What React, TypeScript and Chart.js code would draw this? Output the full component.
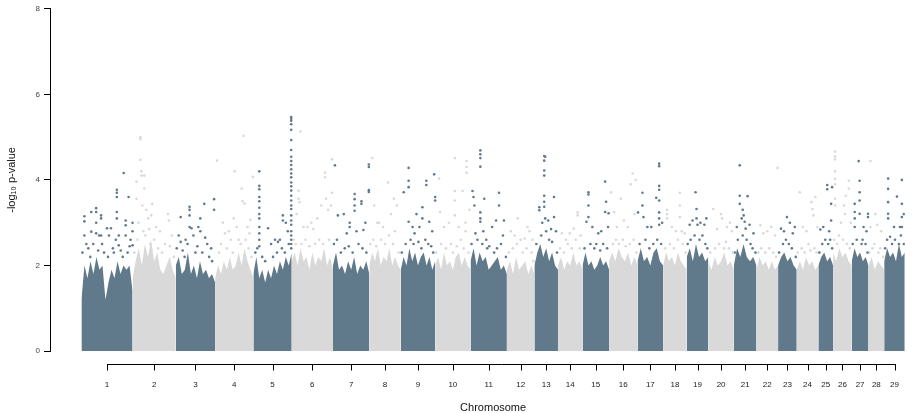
import { useEffect, useRef } from "react";
import { Chart, registerables } from "chart.js";

Chart.register(...registerables);

// Chromosome labels and their widths on the x axis (SNP index units)
const chromosomes = ["1","2","3","4","5","6","7","8","9","10","11","12","13","14","15","16","17","18","19","20","21","22","23","24","25","26","27","28","29"];
const chromLengths = [52,44,40,39,39,42,37,32,35,36,37,28,24,25,27,29,26,24,22,26,23,22,19,22,15,19,17,16,21];
const yTicks = [0, 2, 4, 6, 8];

// Upper edge of the dense cloud of SNPs, sampled evenly along each chromosome (-log10 p)
const envelopes = [
  [1.2,2.0,1.7,2.1,1.8,2.2,1.9,2.0,1.2,1.6,1.9,1.7,2.1,1.8,2.0,1.9,2.0,1.4],
  [1.7,2.1,2.4,2.0,2.5,2.2,2.6,2.1,2.3,1.9,1.8,2.0,2.2,1.9,1.7],
  [2.0,2.2,1.8,1.9,2.3,1.8,2.0,1.7,2.1,1.8,1.9,1.7,1.8,1.6],
  [1.7,2.0,1.8,2.1,1.9,2.2,1.9,2.0,2.3,2.0,2.4,2.1,1.9,1.7],
  [1.8,2.2,1.7,1.9,1.6,1.9,1.7,2.0,1.8,2.1,1.9,2.2,2.0,2.3],
  [2.1,2.3,2.0,2.4,2.1,2.2,1.9,2.3,2.0,2.2,2.1,2.4,2.0,2.2,1.9],
  [2.0,2.3,1.9,2.0,1.8,2.1,1.9,2.2,1.8,2.0,1.9,2.1,1.8],
  [2.0,2.3,2.1,2.4,2.0,2.2,2.1,2.4,2.0,2.2,2.0,1.9],
  [1.9,2.2,2.0,2.4,2.1,2.3,2.0,2.2,2.3,2.0,2.2,1.9,2.1],
  [2.0,2.2,1.9,2.3,2.0,2.1,1.9,2.2,2.3,2.0,2.2,2.0,1.9],
  [2.1,2.4,2.0,2.3,2.1,2.2,1.9,2.0,2.1,2.2,1.9,2.0,1.8],
  [1.9,2.1,1.8,2.2,1.9,2.0,2.1,1.8,2.0,1.8],
  [2.0,2.3,2.5,2.2,2.4,2.1,2.3,2.0,1.9],
  [2.0,2.2,1.9,2.1,2.0,2.3,2.0,2.1,1.9],
  [2.0,2.3,2.0,2.1,1.9,2.0,2.2,2.0,2.1,1.9],
  [2.1,2.3,2.1,2.4,2.2,2.1,2.3,2.0,2.2,2.0],
  [2.1,2.4,2.1,2.2,2.0,2.3,2.4,2.1,2.0],
  [2.0,2.3,2.1,2.2,2.0,2.3,2.1,2.0,1.9],
  [2.2,2.4,2.1,2.5,2.2,2.3,2.1,2.2],
  [2.1,1.9,2.2,2.0,2.1,2.3,2.0,2.1,1.9],
  [2.0,2.4,2.2,2.5,2.2,2.1,2.2,2.0],
  [1.9,2.2,2.0,2.1,1.9,2.1,1.9,2.0],
  [2.0,2.2,2.3,2.1,2.2,2.0,1.9],
  [1.9,2.1,1.9,2.2,2.0,2.1,1.9,2.0],
  [2.0,2.2,2.3,2.1,2.2,2.0],
  [2.3,2.1,2.4,2.2,2.3,2.1,2.0],
  [2.1,2.4,2.2,2.3,2.1,2.2,2.0],
  [2.0,2.2,1.9,2.1,2.0,1.9],
  [2.1,2.4,2.2,2.3,2.1,2.5,2.2,2.3],
];

// Sparse SNPs just above the dense cloud: [position within chromosome, -log10 p]
const fringe = [
  [[1,2.3],[7,2.4],[9,2.2],[12,2.5],[17,2.35],[23,2.3],[27,2.2],[33,2.3],[35,2.6],[40,2.35],[42,2.2],[47,2.3],[49,2.45]],
  [[2,2.3],[5,2.6],[11,2.8],[13,2.7],[17,2.85],[18,2.5],[22,2.6],[26,2.4],[30,2.3],[33,2.5],[38,2.45],[42,2.2]],
  [[1,2.4],[7,2.35],[9,2.2],[12,2.5],[20,2.3],[22,2.45],[27,2.3],[34,2.2],[37,2.1]],
  [[4,2.3],[6,2.5],[12,2.4],[16,2.6],[18,2.3],[24,2.6],[26,2.5],[31,2.6],[34,2.4],[37,2.2]],
  [[2,2.3],[4,2.4],[9,2.2],[12,2.1],[20,2.2],[24,2.3],[29,2.4],[32,2.3],[36,2.5]],
  [[2,2.6],[4,2.5],[10,2.5],[14,2.6],[18,2.45],[24,2.5],[28,2.6],[32,2.5],[38,2.6]],
  [[1,2.5],[4,2.6],[8,2.3],[12,2.4],[16,2.45],[20,2.3],[26,2.5],[30,2.4],[34,2.3]],
  [[1,2.5],[4,2.6],[7,2.45],[12,2.6],[16,2.5],[20,2.7],[24,2.5],[30,2.3]],
  [[1,2.3],[5,2.5],[10,2.6],[13,2.5],[18,2.55],[21,2.4],[25,2.6],[28,2.5],[31,2.45],[33,2.3]],
  [[1,2.3],[6,2.5],[11,2.4],[16,2.5],[18,2.3],[22,2.45],[26,2.6],[29,2.4],[34,2.3]],
  [[1,2.5],[7,2.6],[12,2.5],[17,2.4],[19,2.45],[24,2.3],[27,2.4],[31,2.5],[36,2.2]],
  [[2,2.3],[6,2.4],[10,2.5],[16,2.3],[20,2.4],[25,2.3],[27,2.1]],
  [[2,2.5],[7,2.7],[12,2.8],[15,2.6],[18,2.55],[23,2.3]],
  [[2,2.4],[6,2.3],[10,2.5],[14,2.4],[18,2.6],[22,2.4]],
  [[2,2.4],[8,2.5],[12,2.4],[14,2.5],[18,2.35],[21,2.5],[25,2.4]],
  [[4,2.5],[7,2.6],[10,2.5],[14,2.6],[17,2.45],[21,2.5],[25,2.6],[28,2.3]],
  [[2,2.5],[8,2.6],[12,2.4],[16,2.5],[20,2.6],[24,2.5]],
  [[2,2.4],[7,2.5],[11,2.4],[15,2.6],[20,2.5],[23,2.3]],
  [[1,2.5],[4,2.6],[8,2.7],[13,2.6],[16,2.7],[19,2.5],[21,2.4]],
  [[2,2.3],[7,2.4],[11,2.5],[16,2.4],[18,2.55],[21,2.4],[25,2.3]],
  [[1,2.3],[4,2.6],[9,2.7],[13,2.6],[17,2.5],[19,2.4],[22,2.3]],
  [[2,2.3],[5,2.4],[9,2.3],[13,2.4],[17,2.3],[20,2.2]],
  [[1,2.3],[5,2.5],[8,2.6],[11,2.5],[14,2.4],[18,2.2]],
  [[1,2.3],[5,2.4],[8,2.3],[12,2.5],[14,2.35],[18,2.4],[20,2.3]],
  [[1,2.3],[4,2.5],[7,2.6],[10,2.5],[12,2.6],[14,2.4]],
  [[1,2.6],[4,2.5],[6,2.7],[10,2.6],[14,2.5],[17,2.4]],
  [[1,2.5],[5,2.6],[10,2.5],[11,2.6],[14,2.5],[16,2.3]],
  [[1,2.3],[4,2.4],[6,2.5],[10,2.3],[12,2.4],[15,2.2]],
  [[1,2.4],[3,2.6],[8,2.5],[11,2.6],[15,2.5],[17,2.7],[20,2.5]],
];

// Stand-out SNPs and peaks: [position within chromosome, -log10 p]
const peaks = [
  [[3,3.15],[3,3.03],[3,2.7],[5,2.5],[10,3.25],[10,2.79],[15,3.34],[15,3.25],[15,3.0],[15,2.75],[18,2.7],[20,3.17],[20,3.1],[20,2.7],[21,2.5],[26,2.87],[28,2.7],[30,2.87],[32,2.4],[36,3.77],[36,3.7],[36,3.6],[36,3.25],[36,3.1],[38,2.7],[38,2.47],[43,4.16],[45,3.05],[45,2.94],[45,2.7],[48,3.6],[50,2.6],[52,3.0],[52,2.8],[52,2.47]],
  [[4,3.96],[4,3.56],[8,5.0],[8,4.95],[8,4.47],[9,4.2],[9,4.1],[12,4.1],[12,3.8],[10,3.4],[14,3.3],[6,3.0],[16,3.1],[20,3.44],[19,3.17],[24,2.9],[28,2.8],[36,3.2],[37,3.05],[40,2.7]],
  [[3,2.7],[5,3.13],[5,2.55],[10,2.6],[14,3.37],[14,3.3],[14,3.17],[14,2.9],[16,2.87],[18,2.7],[23,2.9],[25,3.1],[25,2.8],[29,3.44],[30,2.65],[32,2.5],[36,2.4],[39,3.55],[39,3.3]],
  [[2,4.45],[8,3.0],[10,2.75],[14,2.8],[20,4.2],[19,3.1],[22,2.9],[27,3.8],[28,3.5],[29,5.03],[30,3.45],[33,2.9],[35,2.75],[36,3.07],[38.5,4.07]],
  [[6,4.2],[6,3.86],[6,3.78],[6,3.6],[6,3.5],[6,3.35],[6,3.2],[6,3.1],[6,2.9],[6,2.75],[6,2.6],[6,2.45],[15,2.87],[18,2.5],[22,2.6],[25,2.55],[27,2.6],[30,3.17],[30,3.05],[33,3.0],[35,2.8],
   [38.5,5.47],[38.5,5.43],[38.5,5.38],[38.5,5.3],[38.5,5.17],[38.5,4.93],[38.5,4.7],[38.5,4.54],[38.5,4.44],[38.5,4.35],[38.5,4.25],[38.5,4.15],[38.5,4.06],[38.5,3.94],[38.5,3.85],[38.5,3.75],[38.5,3.63],[38.5,3.52],[38.5,3.4],[38.5,3.32],[38.5,3.17],[38.5,3.05],[38.5,2.95],[38.5,2.8],[38.5,2.7],[38.5,2.6],[38.5,2.5],[38.5,2.4]],
  [[9,5.13],[7,3.75],[7,3.56],[8,3.48],[5,3.2],[12,2.9],[16,2.9],[20,3.0],[26,3.1],[30,3.4],[34,4.17],[34,4.06],[35,3.56],[37,3.3],[41,4.48],[41,3.7],[40,3.4],[22,2.85]],
  [[2,4.34],[5,3.17],[11,3.2],[17,3.0],[17,2.9],[22,3.67],[22,3.55],[22,3.4],[22,3.28],[24,2.8],[29,3.5],[29,3.44],[31,2.83],[36.5,4.36],[36.5,4.3],[36.5,3.76],[36.5,3.72],[14,2.75],[33,3.0]],
  [[3,4.51],[5,3.4],[8,3.0],[10,3.0],[14,2.9],[19,3.94],[25,3.56],[28,3.4],[26,2.8],[22,3.2]],
  [[3,3.71],[8,4.28],[8,3.98],[8,3.83],[8,3.02],[12,2.9],[16,3.2],[19,2.9],[22,3.36],[22,3.1],[26,3.98],[26,3.88],[29,3.02],[32,2.8],[34,4.13],[35,3.6],[35,3.52],[14,2.75]],
  [[4,4.03],[5,3.25],[9,2.9],[14,3.0],[20,4.51],[20,3.74],[20,3.52],[20,3.17],[24,2.9],[28,3.74],[31,3.0],[31,2.8],[32,4.44],[32,4.3],[32,4.17],[35,3.3]],
  [[2,3.74],[3,3.6],[4,3.4],[5,2.75],[10,4.69],[10,4.6],[10,4.51],[10,4.31],[10,3.24],[10,3.1],[10,3.02],[13,2.8],[14,3.56],[16,2.6],[22,2.9],[26,3.05],[29,3.7],[29,3.4],[34,3.05],[33,2.7]],
  [[4,2.8],[8,2.7],[11,3.1],[14,2.6],[18,2.63],[21,2.9],[23,2.8],[26,2.6]],
  [[5,3.36],[5,3.29],[8,3.0],[10,4.56],[11,4.54],[10,4.45],[10,4.22],[10,4.1],[10,3.63],[10,3.49],[10,3.37],[11,3.1],[14,3.05],[17,2.85],[20,3.6],[20,3.13],[22,2.8]],
  [[4,2.75],[8,2.6],[12,2.75],[16,2.86],[20,3.24],[20,3.17],[23,2.7]],
  [[4,3.02],[6,3.71],[6,3.66],[6,3.4],[6,3.13],[10,2.9],[16,2.75],[23,3.96],[24,3.49],[23,3.25],[26.5,3.22],[26,2.9],[19,2.8]],
  [[2,3.71],[5,3.25],[12,3.56],[15,3.05],[19,2.9],[22,3.9],[24,4.15],[27,4.0],[8,2.9],[26,3.2]],
  [[0.5,3.24],[5,3.7],[5,3.4],[6,3.13],[10,2.9],[14,2.9],[19,3.58],[22,4.38],[22,4.32],[22,3.86],[22,3.77],[22,3.52],[22,3.24],[22,3.1],[22,2.95],[25,3.0]],
  [[4,3.3],[4,3.2],[4,3.1],[9,2.9],[13,2.8],[17,3.7],[17,3.4],[17,3.13],[19,2.8],[22,2.75]],
  [[3,2.95],[6,3.05],[9,3.71],[10,3.32],[10,3.1],[11,2.95],[14,3.0],[18,2.95],[20,3.1]],
  [[5,3.32],[9,2.85],[13,3.2],[14,3.1],[19,2.9],[22,3.0],[24,2.8]],
  [[3,2.9],[6,4.34],[6,3.63],[6,3.44],[8,3.1],[10,3.17],[11,3.02],[12,2.86],[14,3.62],[16,2.95],[20,2.75],[9,3.3]],
  [[4,2.94],[7,2.75],[11,2.8],[15,2.9],[19,2.7],[21.5,4.28]],
  [[3,2.86],[6,2.8],[9,3.13],[12,3.0],[15,2.75],[17,2.9]],
  [[3,3.71],[6,2.9],[10,2.8],[15,3.48],[16,3.32],[17,3.17],[19,3.6],[21,2.9]],
  [[2,2.84],[5,2.9],[9,3.88],[9,3.78],[14,3.83],[13,3.44],[13,3.05],[11,2.8]],
  [[2,4.66],[2,4.55],[2,4.48],[2,4.2],[2,4.02],[2,3.9],[2,3.56],[2,3.4],[8,3.0],[11,3.4],[12,3.2],[13,3.63],[16,3.98],[16,3.8],[18,3.0]],
  [[3,3.44],[3,3.25],[3,3.1],[3,2.9],[7,4.44],[8,3.98],[8,3.71],[8,3.52],[8,3.21],[12,2.9],[16.5,3.21],[16.5,3.13],[15,2.8]],
  [[2,4.44],[2,2.9],[7,3.2],[9,2.95],[13,2.8]],
  [[4,4.03],[4,3.79],[4,3.48],[4,3.21],[4,3.1],[6,2.67],[10,2.9],[13,3.61],[16,2.9],[18,4.0],[18,3.44],[18,3.13],[18,2.9],[20,3.2]],
];

const DARK = "#607a8c";
const LIGHT = "#d9d9d9";
const FONT = 'Arial, "Liberation Sans", sans-serif';

const starts: number[] = [];
chromLengths.reduce((acc, len) => { starts.push(acc); return acc + len; }, 0);
const totalLength = chromLengths.reduce((a, b) => a + b, 0);
const centers = chromLengths.map((len, i) => starts[i] + len / 2);

const rAxisPlugin = {
  id: "rStyleXAxis",
  afterDraw(chart: any) {
    const { ctx, chartArea, scales } = chart;
    const x = scales.x;
    const y0 = Math.round(chartArea.bottom + 13) + 0.5;
    const first = x.getPixelForValue(centers[0]);
    const last = x.getPixelForValue(centers[centers.length - 1]);
    ctx.save();
    ctx.strokeStyle = "#000";
    ctx.lineWidth = 1;
    ctx.beginPath();
    ctx.moveTo(Math.round(first), y0);
    ctx.lineTo(Math.round(last) + 1, y0);
    centers.forEach((c) => {
      const px = Math.round(x.getPixelForValue(c)) + 0.5;
      ctx.moveTo(px, y0);
      ctx.lineTo(px, y0 + 6);
    });
    ctx.stroke();
    ctx.fillStyle = "#111";
    ctx.font = `11px ${FONT}`;
    ctx.textAlign = "center";
    ctx.textBaseline = "middle";
    ctx.fillText("Chromosome", x.getPixelForValue(totalLength / 2), chart.height - 5);
    ctx.restore();
  },
};

export default function App() {
  const ref = useRef<HTMLCanvasElement | null>(null);
  useEffect(() => {
    if (!ref.current) return;
    const datasets: any[] = [];
    chromLengths.forEach((len, i) => {
      const env = envelopes[i];
      const color = i % 2 === 0 ? DARK : LIGHT;
      datasets.push({
        type: "line",
        data: env.map((v, j) => ({ x: starts[i] + (j * len) / (env.length - 1), y: v })),
        fill: "origin",
        backgroundColor: color,
        borderColor: color,
        borderWidth: 0,
        pointRadius: 0,
        tension: 0,
        order: 2,
      });
    });
    chromLengths.forEach((_len, i) => {
      const color = i % 2 === 0 ? DARK : LIGHT;
      const pts = [...fringe[i], ...peaks[i]];
      datasets.push({
        type: "scatter",
        data: pts.map(([o, v]) => ({ x: starts[i] + o, y: v })),
        backgroundColor: color,
        borderWidth: 0,
        pointRadius: 1.3,
        order: 1,
      });
    });
    const chart = new Chart(ref.current, {
      type: "scatter",
      data: { datasets },
      plugins: [rAxisPlugin],
      options: {
        animation: false,
        responsive: false,
        events: [],
        layout: { padding: 0 },
        plugins: { legend: { display: false }, tooltip: { enabled: false } },
        scales: {
          x: {
            type: "linear",
            min: -32,
            max: totalLength,
            position: "bottom",
            grid: { display: false },
            border: { display: false },
            afterBuildTicks: (s: any) => { s.ticks = centers.map((v) => ({ value: v })); },
            afterFit: (s: any) => { s.height = 62; },
            ticks: {
              autoSkip: false,
              maxRotation: 0,
              padding: 21,
              color: "#222",
              font: { size: 8, family: FONT },
              callback: (_v: any, i: number) => chromosomes[i],
            },
          },
          y: {
            type: "linear",
            min: 0,
            max: 8,
            afterBuildTicks: (s: any) => { s.ticks = yTicks.map((v) => ({ value: v })); },
            afterFit: (s: any) => { s.width = 50; },
            grid: { drawOnChartArea: false, tickLength: 6, tickColor: "#000", color: "#000" },
            border: { display: true, color: "#000", width: 1 },
            ticks: { padding: 4, color: "#444", font: { size: 8, family: FONT } },
            title: {
              display: true,
              text: "-log₁₀ p-value",
              color: "#111",
              font: { size: 11, family: FONT, lineHeight: 1 },
              padding: { top: 6.5, bottom: 0 },
            },
          },
        },
      } as any,
    });
    return () => chart.destroy();
  }, []);
  return (
    <div style={{ position: "fixed", left: 0, top: 0, width: 920, height: 413, background: "#fff" }}>
      <canvas ref={ref} width={920} height={413} style={{ display: "block", width: 920, height: 413 }} />
    </div>
  );
}
